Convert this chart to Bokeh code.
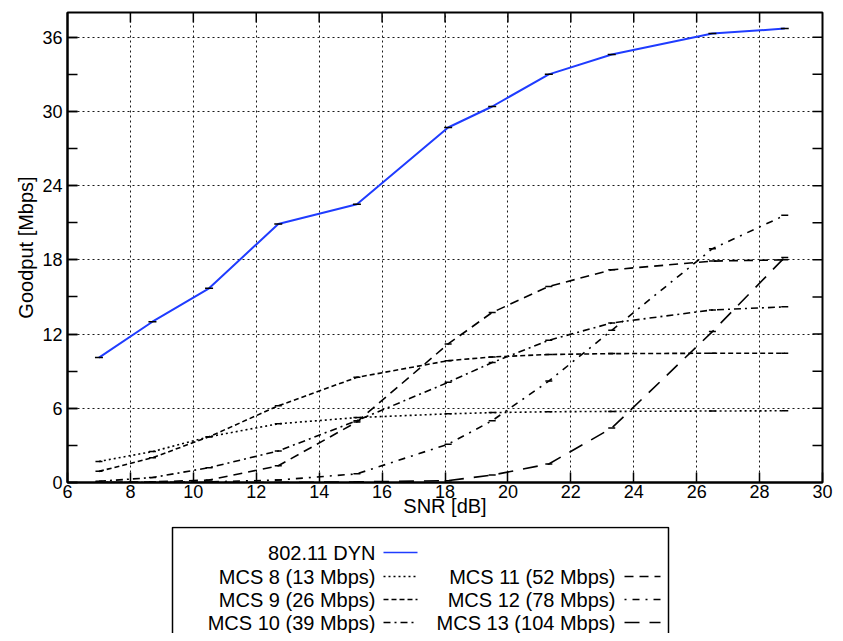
from bokeh.plotting import figure
from bokeh.layouts import column
from bokeh.models import Range1d, SingleIntervalTicker, ColumnDataSource
from bokeh.core.properties import value
from bokeh.embed import file_html
from bokeh.resources import INLINE

# ---------------- data ----------------
snr = [7.0, 8.7, 10.5, 12.7, 15.2, 18.1, 19.5, 21.3, 23.3, 26.5, 28.8]
dyn = [10.1, 13.0, 15.7, 20.9, 22.5, 28.7, 30.4, 33.0, 34.6, 36.3, 36.7]
mcs8 = [1.7, 2.5, 3.7, 4.75, 5.25, 5.55, 5.65, 5.72, 5.75, 5.78, 5.8]
mcs9 = [0.9, 2.0, 3.7, 6.2, 8.5, 9.85, 10.15, 10.35, 10.42, 10.45, 10.45]
mcs10 = [0.1, 0.4, 1.2, 2.55, 5.0, 8.1, 9.7, 11.5, 12.9, 13.95, 14.2]
mcs11 = [0.0, 0.05, 0.2, 1.35, 4.9, 11.2, 13.75, 15.85, 17.2, 17.9, 18.0]
mcs12 = [0.0, 0.0, 0.05, 0.2, 0.7, 3.1, 5.0, 8.2, 12.3, 18.9, 21.6]
mcs13 = [0.0, 0.0, 0.0, 0.0, 0.05, 0.15, 0.6, 1.5, 4.4, 12.2, 18.2]

dyn_name = "802.11 DYN"
mcs_names = ["MCS 8 (13 Mbps)", "MCS 9 (26 Mbps)", "MCS 10 (39 Mbps)",
             "MCS 11 (52 Mbps)", "MCS 12 (78 Mbps)", "MCS 13 (104 Mbps)"]
mcs_values = [mcs8, mcs9, mcs10, mcs11, mcs12, mcs13]

x_ticks = [6, 8, 10, 12, 14, 16, 18, 20, 22, 24, 26, 28, 30]
y_ticks = [0, 3, 6, 9, 12, 15, 18, 21, 24, 27, 30, 33, 36]

x_label = "SNR [dB]"
y_label = "Goodput [Mbps]"

# ---------------- styles ----------------
FONT = "Liberation Sans"
BLUE = "#1f3cff"
mcs_dash = ["2 3", "5 3", "7 4 2 4", "9 6", "2 6 7 6", "15 10"]

X0, X1, Y0, Y1 = 6, 30, 0, 38
W = 835
FL, FR = 67, 822   # frame left / right in page pixels

p = figure(width=W, height=526,
           x_range=Range1d(X0, X1), y_range=Range1d(Y0, Y1),
           output_backend="svg", toolbar_location=None,
           min_border_left=FL, min_border_right=W - FR,
           min_border_top=12, min_border_bottom=44,
           x_axis_label=x_label, y_axis_label=y_label)

p.background_fill_color = "white"
p.border_fill_color = "white"
p.outline_line_color = "black"
p.outline_line_width = 2

xt = SingleIntervalTicker(interval=2, num_minor_ticks=0)
yt = SingleIntervalTicker(interval=6, num_minor_ticks=2)
p.xaxis.ticker = xt
p.yaxis.ticker = yt
p.xgrid.ticker = xt
p.ygrid.ticker = yt

for g in (p.xgrid, p.ygrid):
    g.grid_line_color = "black"
    g.grid_line_dash = "2 3"
    g.grid_line_width = 1
    g.grid_line_alpha = 0.9

for ax in list(p.xaxis) + list(p.yaxis):
    ax.axis_line_color = "black"
    ax.axis_line_width = 2
    ax.major_tick_in = 10
    ax.major_tick_out = 0
    ax.minor_tick_in = 10
    ax.minor_tick_out = 0
    ax.major_tick_line_color = "black"
    ax.minor_tick_line_color = "black"
    ax.major_tick_line_width = 1.5
    ax.minor_tick_line_width = 1.5
    ax.major_label_text_font = FONT
    ax.major_label_text_font_size = "18px"
    ax.major_label_text_color = "black"
    ax.axis_label_text_font = FONT
    ax.axis_label_text_font_size = "20px"
    ax.axis_label_text_font_style = "normal"
    ax.axis_label_text_color = "black"

p.xaxis.major_label_standoff = 2
p.xaxis.axis_label_standoff = -6
p.yaxis.major_label_standoff = 5
p.yaxis.axis_label_standoff = 2

# ticks on the top and right edges of the frame (inside), 10 px long
tick_dx = 10 * (X1 - X0) / 755.0
tick_dy = 10 * (Y1 - Y0) / 470.0
top_x = [t for t in x_ticks if X0 < t < X1]
p.segment(x0=top_x, y0=[Y1] * len(top_x), x1=top_x,
          y1=[Y1 - tick_dy] * len(top_x), line_color="black", line_width=1.5)
right_y = [t for t in y_ticks if Y0 < t < Y1]
p.segment(x0=[X1] * len(right_y), y0=right_y, x1=[X1 - tick_dx] * len(right_y),
          y1=right_y, line_color="black", line_width=1.5)

# ---------------- data lines ----------------
src = ColumnDataSource(dict(x=snr, y=dyn))
p.line("x", "y", source=src, line_color=BLUE, line_width=2)
p.scatter("x", "y", source=src, marker="dash", size=8,
          line_color="black", line_width=1.5)

for vals, dash in zip(mcs_values, mcs_dash):
    s = ColumnDataSource(dict(x=snr, y=vals))
    p.line("x", "y", source=s, line_color="black", line_width=1.6,
           line_dash=dash)
    p.scatter("x", "y", source=s, marker="dash", size=7,
              line_color="black", line_width=1.5)

# ---------------- legend (separate figure, page-pixel coordinates) ----------
# the column aligns this figure's frame with the main frame (FL..FR)
LH = 107
lg = figure(width=W, height=LH, x_range=Range1d(FL, FR), y_range=Range1d(LH, 0),
            output_backend="svg", toolbar_location=None,
            min_border_left=FL, min_border_right=W - FR,
            min_border_top=0, min_border_bottom=0,
            x_axis_type=None, y_axis_type=None)
lg.outline_line_color = None
lg.grid.visible = False
lg.background_fill_color = "white"
lg.border_fill_color = "white"

lg.quad(left=[172], right=[668], top=[1], bottom=[LH + 20],
        fill_color="white", line_color="black", line_width=1.5)

rows_y = [26, 50, 73, 96]
col_text_x = [375, 615]
col_sample = [(383, 417), (624, 660)]

entries = [(dyn_name, 0, 0, BLUE, None)]
for i, (name, dash) in enumerate(zip(mcs_names, mcs_dash)):
    entries.append((name, 0 if i < 3 else 1, (i % 3) + 1, "black", dash))

lg.text(x=[col_text_x[c] for _, c, _, _, _ in entries],
        y=[rows_y[r] for _, _, r, _, _ in entries],
        text=[n for n, _, _, _, _ in entries],
        text_align="right", text_baseline="middle",
        text_font=value(FONT), text_font_size="20px", text_color="black")

for name, c, r, color, dash in entries:
    xa, xb = col_sample[c]
    kw = dict(line_color=color, line_width=1.5)
    if dash:
        kw["line_dash"] = dash
    lg.line(x=[xa, xb], y=[rows_y[r], rows_y[r]], **kw)

layout = column(p, lg, spacing=0)
open("out.html", "w").write(file_html(layout, INLINE))
